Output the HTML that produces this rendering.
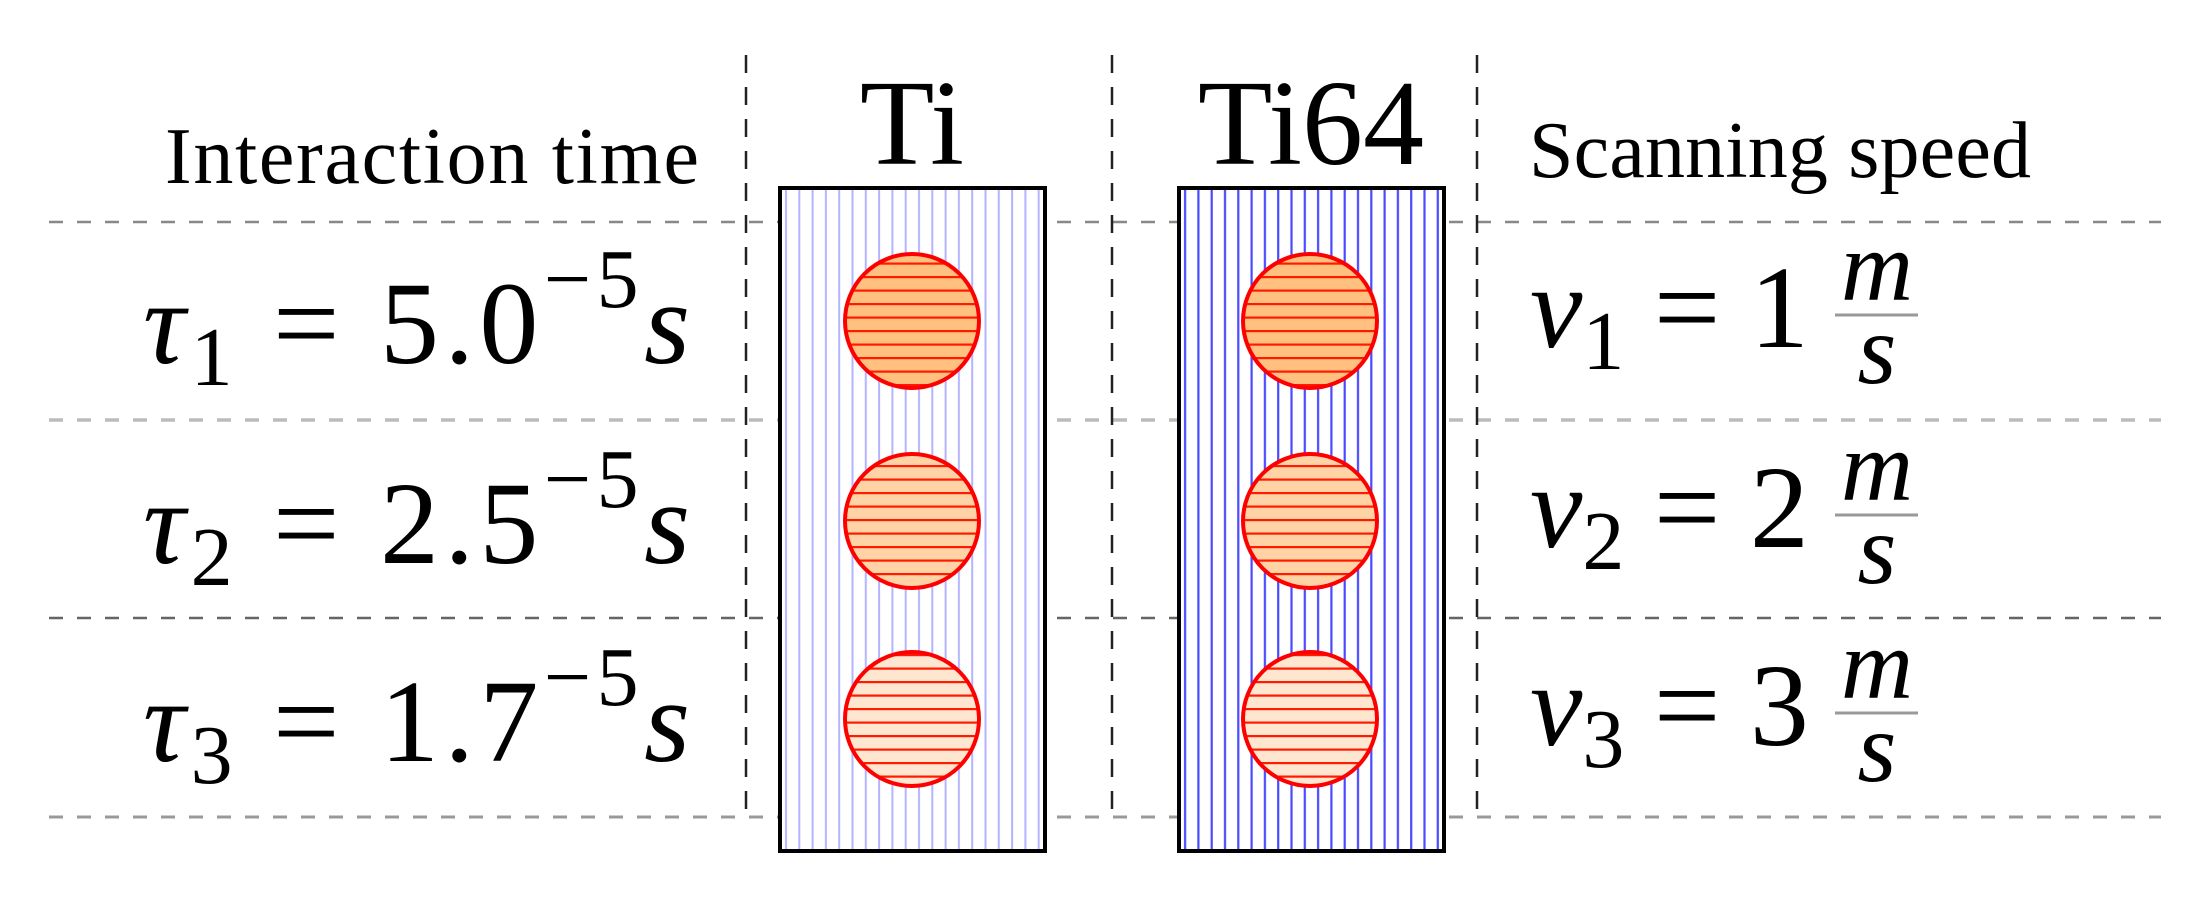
<!DOCTYPE html>
<html><head><meta charset="utf-8"><style>html,body{margin:0;padding:0;background:#fff}svg{display:block}text{font-family:"Liberation Serif","DejaVu Serif",serif}</style></head>
<body>
<svg width="2208" height="901" viewBox="0 0 2208 901" xmlns="http://www.w3.org/2000/svg">
<defs>
<pattern id="pti" x="779" y="0" width="13.3" height="10" patternUnits="userSpaceOnUse"><rect width="13.3" height="10" fill="#fff"/><rect x="6" width="2" height="10" fill="#b4b4ff"/></pattern>
<pattern id="pti64" x="1178" y="0" width="13.3" height="10" patternUnits="userSpaceOnUse"><rect width="13.3" height="10" fill="#fff"/><rect x="6" width="2.2" height="10" fill="#4a4aff"/></pattern>
<pattern id="h1" x="0" y="0" width="10" height="13.5" patternUnits="userSpaceOnUse"><rect width="10" height="13.5" fill="#ffc080"/><rect y="6" width="10" height="2.2" fill="#ff1a00"/></pattern>
<pattern id="h2" x="0" y="0" width="10" height="13.5" patternUnits="userSpaceOnUse"><rect width="10" height="13.5" fill="#ffd3a6"/><rect y="6" width="10" height="2.2" fill="#ff1a00"/></pattern>
<pattern id="h3" x="0" y="0" width="10" height="13.5" patternUnits="userSpaceOnUse"><rect width="10" height="13.5" fill="#ffe6d0"/><rect y="6" width="10" height="2.2" fill="#ff1a00"/></pattern>
</defs>
<g fill="none" stroke-dasharray="14 14">
<line x1="49" y1="222" x2="2161" y2="222" stroke="#888" stroke-width="2.5"/>
<line x1="49" y1="420" x2="2161" y2="420" stroke="#bbb" stroke-width="3.5"/>
<line x1="49" y1="618" x2="2161" y2="618" stroke="#666" stroke-width="2.5"/>
<line x1="49" y1="817" x2="2161" y2="817" stroke="#999" stroke-width="3"/>
</g>
<g stroke="#222" stroke-width="2.5" stroke-dasharray="18 14">
<line x1="746" y1="55" x2="746" y2="817"/>
<line x1="1112" y1="55" x2="1112" y2="817"/>
<line x1="1477" y1="55" x2="1477" y2="817"/>
</g>
<rect x="780" y="188" width="265" height="663" fill="url(#pti)" stroke="#000" stroke-width="4"/>
<rect x="1179" y="188" width="265" height="663" fill="url(#pti64)" stroke="#000" stroke-width="4"/>
<g stroke="#ff0000" stroke-width="4">
<circle cx="912" cy="321" r="67" fill="url(#h1)"/>
<circle cx="912" cy="521" r="67" fill="url(#h2)"/>
<circle cx="912" cy="719" r="67" fill="url(#h3)"/>
<circle cx="1310" cy="321" r="67" fill="url(#h1)"/>
<circle cx="1310" cy="521" r="67" fill="url(#h2)"/>
<circle cx="1310" cy="719" r="67" fill="url(#h3)"/>
</g>
<text x="912" y="164" font-size="122" text-anchor="middle">Ti</text>
<text x="1311" y="164" font-size="122" text-anchor="middle">Ti64</text>
<text x="699" y="183" font-size="80" text-anchor="end" textLength="534">Interaction time</text>
<text x="1529" y="177" font-size="80" textLength="502">Scanning speed</text>
<g font-size="118">
<text x="143" y="363" textLength="547"><tspan font-style="italic">τ</tspan><tspan font-size="84" dy="22">1</tspan><tspan dy="-22"> = 5.0</tspan><tspan font-size="84" dy="-56">−5</tspan><tspan dy="56" font-style="italic">s</tspan></text>
<text x="143" y="563" textLength="547"><tspan font-style="italic">τ</tspan><tspan font-size="84" dy="22">2</tspan><tspan dy="-22"> = 2.5</tspan><tspan font-size="84" dy="-56">−5</tspan><tspan dy="56" font-style="italic">s</tspan></text>
<text x="143" y="761" textLength="547"><tspan font-style="italic">τ</tspan><tspan font-size="84" dy="22">3</tspan><tspan dy="-22"> = 1.7</tspan><tspan font-size="84" dy="-56">−5</tspan><tspan dy="56" font-style="italic">s</tspan></text>
</g>
<g font-size="118">
<text x="1530" y="347"><tspan font-style="italic">v</tspan><tspan font-size="84" dy="22">1</tspan><tspan dy="-22"> = 1</tspan></text>
<text x="1530" y="547"><tspan font-style="italic">v</tspan><tspan font-size="84" dy="22">2</tspan><tspan dy="-22"> = 2</tspan></text>
<text x="1530" y="745"><tspan font-style="italic">v</tspan><tspan font-size="84" dy="22">3</tspan><tspan dy="-22"> = 3</tspan></text>
</g>
<g font-size="100" font-style="italic" text-anchor="middle">
<text x="1877" y="300">m</text><text x="1877" y="383">s</text>
<text x="1877" y="500">m</text><text x="1877" y="583">s</text>
<text x="1877" y="698">m</text><text x="1877" y="781">s</text>
</g>
<g stroke="#999" stroke-width="3">
<line x1="1835" y1="315" x2="1918" y2="315"/>
<line x1="1835" y1="515" x2="1918" y2="515"/>
<line x1="1835" y1="713" x2="1918" y2="713"/>
</g>
</svg>
</body></html>
